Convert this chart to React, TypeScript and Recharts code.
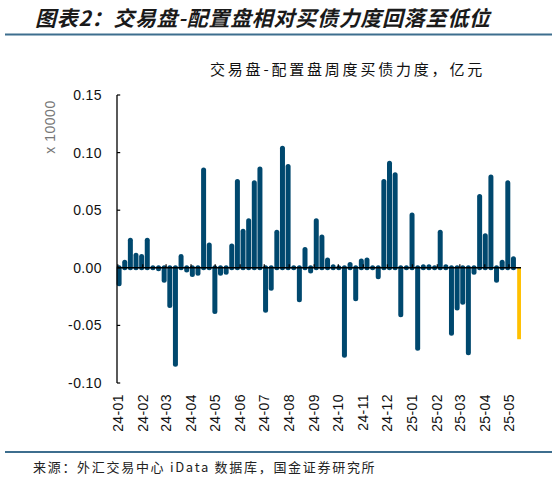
import React from 'react';
import { BarChart, Bar, XAxis, YAxis, ReferenceLine } from 'recharts';

// Weekly observation dates
const weekDates = [
  '2024-01-03', '2024-01-10', '2024-01-17', '2024-01-24', '2024-01-31',
  '2024-02-07', '2024-02-14', '2024-02-21', '2024-02-28',
  '2024-03-06', '2024-03-13', '2024-03-20', '2024-03-27',
  '2024-04-03', '2024-04-10', '2024-04-17', '2024-04-24',
  '2024-05-01', '2024-05-08', '2024-05-15', '2024-05-22', '2024-05-29',
  '2024-06-05', '2024-06-12', '2024-06-19', '2024-06-26',
  '2024-07-03', '2024-07-10', '2024-07-17', '2024-07-24', '2024-07-31',
  '2024-08-07', '2024-08-14', '2024-08-21', '2024-08-28',
  '2024-09-04', '2024-09-11', '2024-09-18', '2024-09-25',
  '2024-10-02', '2024-10-09', '2024-10-16', '2024-10-23', '2024-10-30',
  '2024-11-06', '2024-11-13', '2024-11-20', '2024-11-27',
  '2024-12-04', '2024-12-11', '2024-12-18', '2024-12-25',
  '2025-01-01', '2025-01-08', '2025-01-15', '2025-01-22', '2025-01-29',
  '2025-02-05', '2025-02-12', '2025-02-19', '2025-02-26',
  '2025-03-05', '2025-03-12', '2025-03-19', '2025-03-26',
  '2025-04-02', '2025-04-09', '2025-04-16', '2025-04-23', '2025-04-30',
  '2025-05-07', '2025-05-14',
];

// 交易盘-配置盘周度买债力度 (x 10000 亿元)
const netBuying = [
  -0.016, 0.007, 0.026, 0.013, 0.012,
  0.026, 0.001, -0.003, -0.013,
  -0.035, -0.086, 0.012, -0.004,
  -0.008, -0.007, 0.087, 0.022,
  -0.040, -0.007, -0.006, 0.021, 0.077,
  0.034, 0.043, 0.076, 0.088,
  -0.039, -0.020, 0.033, 0.106, 0.090,
  0.002, -0.030, 0.018, -0.005,
  0.043, 0.029, 0.009, 0.003,
  0.001, -0.078, 0.005, -0.029, 0.008,
  0.009, 0.002, -0.010, 0.077,
  0.093, 0.083, -0.043, -0.002,
  0.048, -0.072, 0.003, 0.003, 0.001,
  0.033, 0.003, -0.059, -0.037,
  -0.032, -0.076, -0.006, 0.064,
  0.030, 0.081, -0.013, 0.007, 0.076,
  0.010, -0.062,
];

const monthTicks = [
  '2024-01-01', '2024-02-01', '2024-03-01', '2024-04-01', '2024-05-01', '2024-06-01',
  '2024-07-01', '2024-08-01', '2024-09-01', '2024-10-01', '2024-11-01', '2024-12-01',
  '2025-01-01', '2025-02-01', '2025-03-01', '2025-04-01', '2025-05-01',
];
const monthLabels = [
  '24-01', '24-02', '24-03', '24-04', '24-05', '24-06', '24-07', '24-08', '24-09',
  '24-10', '24-11', '24-12', '25-01', '25-02', '25-03', '25-04', '25-05',
];
const yTicks = [-0.1, -0.05, 0, 0.05, 0.1, 0.15];

const TITLE = '图表2：交易盘-配置盘相对买债力度回落至低位';
const LEGEND = '交易盘-配置盘周度买债力度，亿元';
const SOURCE = '来源：外汇交易中心 iData 数据库，国金证券研究所';
const UNIT = 'x 10000';

const DAY0 = Date.UTC(2024, 0, 1);
const toDay = (s: string) => {
  const [y, m, d] = s.split('-').map(Number);
  return Math.round((Date.UTC(y, m - 1, d) - DAY0) / 86400000);
};

const lastIdx = weekDates.length - 1;
const data = weekDates.map((d, i) => ({ day: toDay(d), value: netBuying[i], latest: i === lastIdx }));
const tickDays = monthTicks.map(toDay);
const labelOf = (day: number) => monthLabels[tickDays.indexOf(day)] ?? '';

const BLUE = '#00486e';
const YELLOW = '#FFC000';
const NUM_FONT = '"Liberation Sans", Arial, sans-serif';
const CJK_FONT = '"Noto Sans CJK SC", "Noto Sans", sans-serif';

const BarShape = (props: any) => {
  const { x, y, width, height, payload } = props;
  if (x == null || y == null) return null;
  const cx = x + width / 2;
  const top = Math.min(y, y + height);
  const bottom = Math.max(y, y + height);
  if (payload && payload.latest) {
    return <rect x={cx - 1.9} y={top} width={3.8} height={bottom - top} fill={YELLOW} />;
  }
  const r = width / 2;
  let y1: number;
  let y2: number;
  if (payload.value >= 0) {
    y2 = bottom;
    y1 = Math.min(top + r, y2);
  } else {
    y1 = top;
    y2 = Math.max(bottom - r, y1);
  }
  return (
    <line x1={cx} x2={cx} y1={y1} y2={y2} stroke={BLUE} strokeWidth={width} strokeLinecap="round" />
  );
};

const XTick = (props: any) => {
  const { x, y, payload } = props;
  return (
    <text
      transform={`translate(${x},${y}) rotate(-90)`}
      textAnchor="end"
      dominantBaseline="central"
      fontSize={14}
      letterSpacing={0.4}
      fontFamily={NUM_FONT}
      fill="#111"
    >
      {labelOf(payload.value)}
    </text>
  );
};

export default function App() {
  return (
    <div style={{ position: 'absolute', left: 0, top: 0, width: 559, height: 478, background: '#fff' }}>
      <BarChart
        width={559}
        height={478}
        data={data}
        margin={{ top: 95, right: 38, bottom: 45, left: 57 }}
      >
        <XAxis
          type="number"
          dataKey="day"
          domain={[-1, 501]}
          ticks={tickDays}
          interval={0}
          axisLine={false}
          tickLine={false}
          tickSize={0}
          tickMargin={11}
          height={50}
          tick={<XTick />}
        />
        <YAxis
          type="number"
          domain={[-0.1, 0.15]}
          ticks={yTicks}
          interval={0}
          width={60}
          tickSize={0}
          tickMargin={15}
          tickLine={false}
          axisLine={{ stroke: '#000', strokeWidth: 1.3 }}
          tickFormatter={(v: number) => v.toFixed(2)}
          tick={{ fill: '#111', fontSize: 14, fontFamily: NUM_FONT, letterSpacing: 0.4 }}
        />
        <Bar dataKey="value" barSize={5} isAnimationActive={false} shape={<BarShape />} />
        <ReferenceLine y={0} stroke="#000" strokeWidth={1.6} />
        {tickDays.map((d) => (
          <ReferenceLine
            key={'xt' + d}
            segment={[{ x: d, y: 0 }, { x: d, y: 0.003 }]}
            stroke="#000"
            strokeWidth={1.2}
          />
        ))}
        {yTicks.map((v) => (
          <ReferenceLine
            key={'yt' + v}
            segment={[{ x: -1, y: v }, { x: 3, y: v }]}
            stroke="#000"
            strokeWidth={1.2}
          />
        ))}
      </BarChart>
      <svg
        width={559}
        height={478}
        style={{ position: 'absolute', left: 0, top: 0, pointerEvents: 'none' }}
      >
        <text
          x={35}
          y={17}
          dominantBaseline="central"
          fontFamily={CJK_FONT}
          fontWeight="bold"
          fontStyle="italic"
          fontSize={21}
          letterSpacing={0.7}
          fill="#1a1a1a"
        >
          {TITLE}
        </text>
        <line x1={5} x2={552} y1={34.5} y2={34.5} stroke="#3d6e8e" strokeWidth={2} />
        <text
          x={210}
          y={68}
          dominantBaseline="central"
          fontFamily={CJK_FONT}
          fontSize={15}
          letterSpacing={2.8}
          fill="#111"
        >
          {LEGEND}
        </text>
        <text
          transform="translate(50,127) rotate(-90)"
          textAnchor="middle"
          dominantBaseline="central"
          fontFamily={NUM_FONT}
          fontSize={14}
          letterSpacing={0.5}
          fill="#777"
        >
          {UNIT}
        </text>
        <line x1={5} x2={552} y1={452} y2={452} stroke="#3d6e8e" strokeWidth={2} />
        <text
          x={33}
          y={466}
          dominantBaseline="central"
          fontFamily={CJK_FONT}
          fontSize={13}
          letterSpacing={1.7}
          fill="#222"
        >
          {SOURCE}
        </text>
      </svg>
    </div>
  );
}
